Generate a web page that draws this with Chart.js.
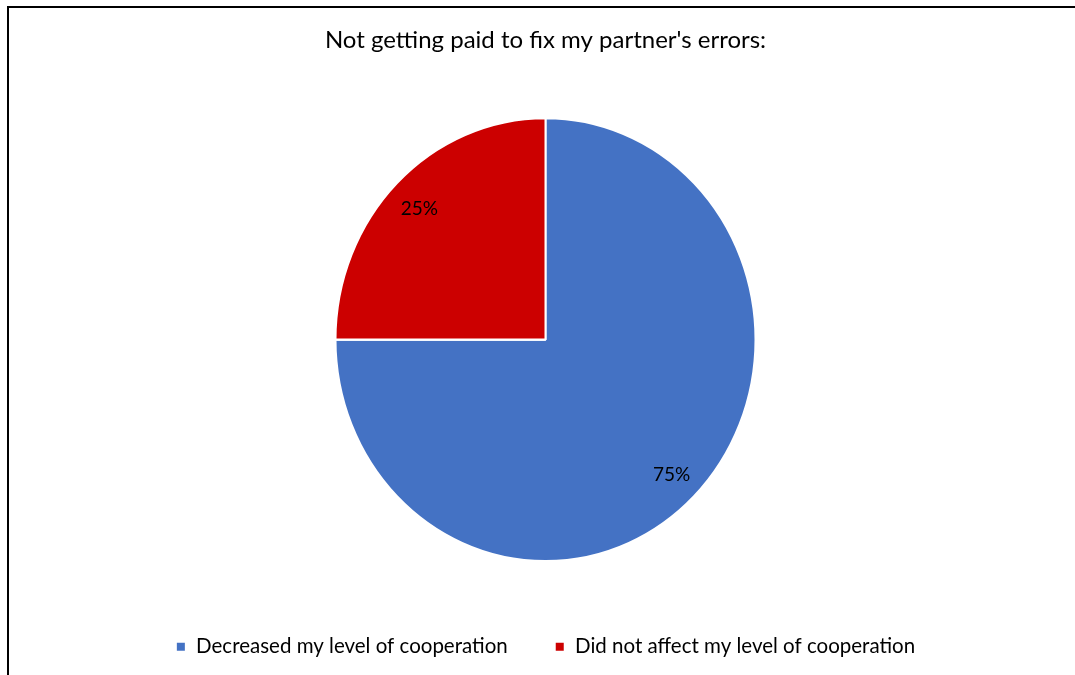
<!DOCTYPE html>
<html>
<head>
<meta charset="utf-8">
<title>Not getting paid to fix my partner's errors</title>
<script src="https://cdn.jsdelivr.net/npm/chart.js@4.4.1/dist/chart.umd.min.js"></script>
<style>
  html, body { margin: 0; padding: 0; background: #fff; }
  #wrap { position: relative; width: 1075px; height: 675px; }
</style>
</head>
<body>
<div id="wrap"><canvas id="pie" width="1075" height="675"></canvas></div>
<script>
// --- DATA ---
const titleText = "Not getting paid to fix my partner's errors:";
const categories = ['Decreased my level of cooperation', 'Did not affect my level of cooperation'];
const shares = [75, 25];
const sliceColors = ['#4472C4', '#CC0000'];

const FONT = 'Lato, "Open Sans", sans-serif';
const STRETCH_Y = 442 / 419;   // pie is drawn slightly taller than wide

// frame lines along the top and left edge
const framePlugin = {
    id: 'frame',
    beforeDraw(chart) {
        const ctx = chart.ctx;
        ctx.save();
        ctx.strokeStyle = '#000';
        ctx.lineWidth = 2;
        ctx.beginPath();
        ctx.moveTo(8, 675);
        ctx.lineTo(8, 7);
        ctx.lineTo(1075, 7);
        ctx.stroke();
        ctx.restore();
    }
};

// stretch the pie vertically around its centre, then write the % labels
const stretchPlugin = {
    id: 'stretch',
    beforeDatasetsDraw(chart) {
        const arc = chart.getDatasetMeta(0).data[0];
        const ctx = chart.ctx;
        ctx.save();
        ctx.translate(arc.x, arc.y);
        ctx.scale(1, STRETCH_Y);
        ctx.translate(-arc.x, -arc.y);
    },
    afterDatasetsDraw(chart) {
        const ctx = chart.ctx;
        ctx.restore();

        const meta = chart.getDatasetMeta(0);
        ctx.save();
        ctx.font = '19px ' + FONT;
        ctx.fillStyle = '#000';
        ctx.textAlign = 'center';
        ctx.textBaseline = 'middle';
        meta.data.forEach((a, i) => {
            const p = a.getProps(['x', 'y', 'startAngle', 'endAngle', 'outerRadius'], true);
            const mid = (p.startAngle + p.endAngle) / 2;
            const r = p.outerRadius * 0.85;
            const x = p.x + Math.cos(mid) * r;
            const y = p.y + Math.sin(mid) * r * STRETCH_Y;
            ctx.fillText(shares[i] + '%', x, y + 2);
        });
        ctx.restore();
    }
};

new Chart(document.getElementById('pie'), {
    type: 'pie',
    data: {
        labels: categories,
        datasets: [{
            data: shares,
            backgroundColor: sliceColors,
            borderColor: '#fff',
            borderWidth: 2,
            radius: 210
        }]
    },
    options: {
        responsive: false,
        animation: false,
        layout: { padding: { left: 20, right: 4, top: 0, bottom: 8 } },
        plugins: {
            title: {
                display: true,
                text: titleText,
                color: '#000',
                font: { family: FONT, size: 24, weight: 'normal' },
                padding: { top: 26, bottom: 35 }
            },
            legend: {
                position: 'bottom',
                labels: {
                    color: '#000',
                    font: { family: FONT, size: 20.5 },
                    boxWidth: 10,
                    boxHeight: 10,
                    padding: 47
                }
            },
            tooltip: { enabled: false }
        }
    },
    plugins: [framePlugin, stretchPlugin]
});
</script>
</body>
</html>
